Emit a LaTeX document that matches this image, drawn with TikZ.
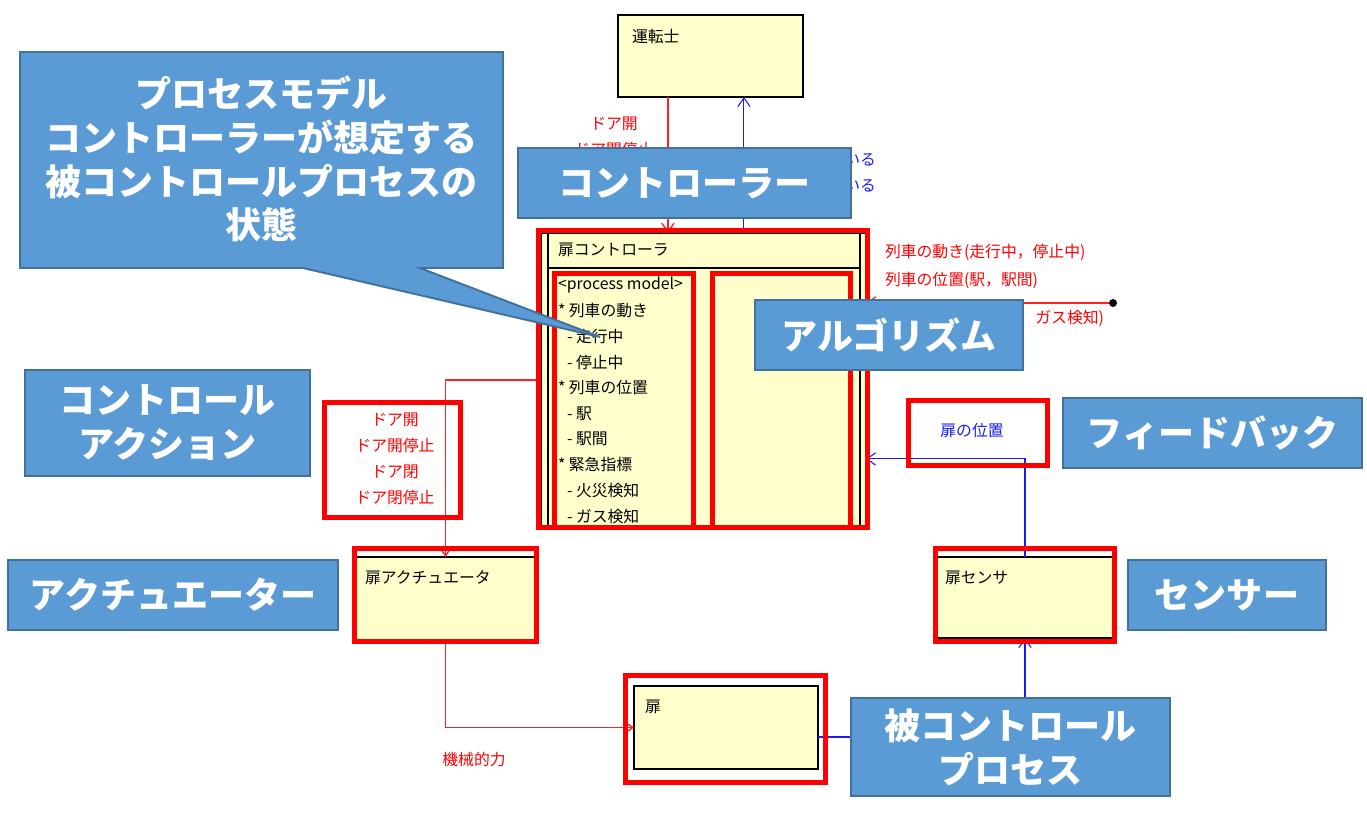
\documentclass[tikz,border=0pt]{standalone}
\usepackage{fontspec}
\setmainfont{Noto Sans CJK JP}
\usetikzlibrary{arrows.meta,calc}
\definecolor{umlyel}{HTML}{FFFFCC}
\definecolor{lblfill}{HTML}{5B9BD5}
\definecolor{lbldraw}{HTML}{41719C}
\definecolor{cmdred}{HTML}{FF2020}
\definecolor{fbblue}{HTML}{1A1AFF}

\begin{document}
\begin{tikzpicture}
  [x=0.02cm,y=-0.02cm,
   every node/.style={inner sep=0pt,outer sep=0pt},
   cls/.style={draw,fill=umlyel,line width=0.9pt,anchor=north west},
   clstxt/.style={anchor=west,font=\fontsize{9}{14.7}\selectfont},
   cmd/.style={draw=cmdred,line width=0.75pt,-{Straight Barb[length=5pt,width=7pt]}},
   fb/.style={draw=fbblue,line width=0.6pt,-{Straight Barb[length=5pt,width=7pt]}},
   redtxt/.style={text=red,font=\fontsize{9}{14.7}\selectfont},
   bluetxt/.style={text=fbblue,font=\fontsize{9}{14.7}\selectfont},
   hl/.style={draw=red,line width=2.85pt},
   lbl/.style={draw=lbldraw,fill=lblfill,line width=1.1pt,anchor=north west,
     text=white,align=center,font=\bfseries\fontsize{20.5}{25}\selectfont}]

  \useasboundingbox (0,0) rectangle (1367,815);

  % class boxes
  \node[cls,minimum width=3.7cm,minimum height=1.64cm] (drv) at (618,15) {};
  \node[cls,minimum width=6.5cm,minimum height=5.88cm] (ctrl) at (541,233) {};
  \draw[line width=0.9pt] ($(ctrl.north west)+(7,0)$) -- ($(ctrl.south west)+(7,0)$);
  \draw[line width=0.9pt] ($(ctrl.north east)+(-6,0)$) -- ($(ctrl.south east)+(-6,0)$);
  \draw[line width=0.9pt] ($(ctrl.north west)+(7,35)$) -- ($(ctrl.north east)+(-6,35)$);
  \node[cls,minimum width=3.58cm,minimum height=1.66cm] (act) at (356,557) {};
  \node[cls,minimum width=3.52cm,minimum height=1.62cm] (sens) at (937,557) {};
  \node[cls,minimum width=3.68cm,minimum height=1.66cm] (door) at (634,686) {};

  \node[clstxt] (drvname) at (632,36) {運転士};
  \node[clstxt] (ctrlname) at (558,250) {扉コントローラ};
  \node[clstxt] (actname) at (365,578) {扉アクチュエータ};
  \node[clstxt] (sensname) at (945,578) {扉センサ};
  \node[clstxt] (doorname) at (645,707) {扉};
  \foreach \t/\dx [count=\i] in {<process model>/0, * 列車の動き/0, - 走行中/9,
      - 停止中/9, * 列車の位置/0, - 駅/9, - 駅間/9, * 緊急指標/0, - 火災検知/9, - ガス検知/9}
    \node[clstxt] (pm\i) at (558+\dx,285+25.7*\i-25.7) {\t};

  % connectors
  \coordinate (c1) at ($(drv.south west)!.27!(drv.south east)$);
  \coordinate (c2) at ($(drv.south west)!.681!(drv.south east)$);
  \draw[cmd] (c1) -- (c1 |- ctrl.north);
  \draw[fb] (c2 |- ctrl.north) -- (c2);
  \node[circle,fill,minimum size=0.16cm] (gasdot) at (1113,303) {};
  \draw[cmd] (gasdot) -- (gasdot -| ctrl.east);
  \draw[cmd] (ctrl.west) -| (act.north);
  \draw[cmd] (act.south) |- (door.west);
  \draw[fb] ([yshift=-0.19cm]door.east) -| (sens.south);
  \draw[fb] (sens.north) |- ([yshift=-1.58cm]ctrl.east);

  % connector labels
  \node[redtxt,align=center,anchor=north] (drvcmd) at (614,117) {ドア開\\ドア開停止};
  \node[bluetxt,align=right,anchor=north east] (drvfb) at (876,154) {いる\\いる};
  \node[redtxt,align=left,anchor=north west] (trainlbl) at (885,244) {列車の動き(走行中，停止中)\\[1.2pt]列車の位置(駅，駅間)};
  \node[redtxt,anchor=east] (emglbl) at (1104,318) {ガス検知)};
  \node[redtxt,align=center,anchor=north] (calbl) at (395,413) {ドア開\\ドア開停止\\ドア閉\\ドア閉停止};
  \node[redtxt] (forcelbl) at (474,759) {機械的力};
  \node[bluetxt] (poslbl) at (972,431) {扉の位置};

  % highlights
  \foreach \x/\y/\u/\v in {538.5/230.5/867.5/527.5, 554.5/273.5/693.5/527.5,
      712.5/273.5/850.5/527.5, 324.5/402.5/460.5/517.5, 354.5/548.5/536.5/641.5,
      625.5/675.5/825.5/782.5, 935.5/548.5/1114.5/641.5, 908.5/400.5/1047.5/465.5}
    \draw[hl] (\x,\y) rectangle (\u,\v);

  % blue labels
  \node[lbl,minimum width=6.66cm,minimum height=1.4cm] (ctrlrlbl) at (518,148) {コントローラー};
  \node[lbl,minimum width=5.36cm,minimum height=1.4cm] (algolbl) at (755,300) {アルゴリズム};
  \node[lbl,minimum width=5.7cm,minimum height=2.12cm] (calbl2) at (25,370) {コントロール\\アクション};
  \node[lbl,minimum width=6.6cm,minimum height=1.4cm] (actlbl) at (8,560) {アクチュエーター};
  \node[lbl,minimum width=5.98cm,minimum height=1.4cm] (fblbl) at (1063,398) {フィードバック};
  \node[lbl,minimum width=3.96cm,minimum height=1.4cm] (senslbl) at (1128,560) {センサー};
  \node[lbl,minimum width=6.38cm,minimum height=1.96cm] (proclbl) at (851,698) {被コントロール\\プロセス};

  % callout
  \draw[draw=lbldraw,fill=lblfill,line width=1.1pt] (20,52) -- (503,52) -- (503,268) -- (420,268)
    -- (600,337) -- (303,268) -- (20,268) -- cycle;
  \node[text=white,align=center,font=\bfseries\fontsize{20.5}{25}\selectfont] (pmcallout) at (261.5,159)
    {プロセスモデル\\コントローラーが想定する\\被コントロールプロセスの\\状態};
\end{tikzpicture}
\end{document}
